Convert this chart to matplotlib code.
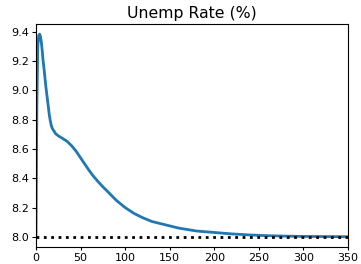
import matplotlib
matplotlib.use("Agg")
import matplotlib.pyplot as plt

# values
periods = [0, 1, 2, 3, 4, 5, 6, 7, 8, 9, 10, 11, 12, 13, 14, 15, 16, 17, 18, 19,
           20, 22, 25, 30, 35, 40, 45, 50, 55, 60, 65, 70, 75, 80, 90, 100, 110,
           120, 130, 140, 150, 160, 170, 180, 190, 200, 220, 240, 260, 280, 300,
           325, 350]
unemp = [8.00, 8.90, 9.30, 9.375, 9.385, 9.37, 9.33, 9.27, 9.20, 9.15, 9.09,
         9.03, 8.98, 8.93, 8.88, 8.83, 8.795, 8.765, 8.745, 8.733, 8.725, 8.705,
         8.69, 8.672, 8.652, 8.622, 8.585, 8.54, 8.495, 8.45, 8.41, 8.375, 8.342,
         8.312, 8.25, 8.20, 8.16, 8.13, 8.105, 8.09, 8.075, 8.06, 8.05, 8.04,
         8.035, 8.03, 8.02, 8.013, 8.008, 8.005, 8.003, 8.002, 8.001]
steady_state = 8.0

plt.rcParams['xtick.labelsize'] = 8
plt.rcParams['ytick.labelsize'] = 8
plt.rcParams['xtick.major.size'] = 2.5
plt.rcParams['ytick.major.size'] = 2.8
plt.rcParams['xtick.major.pad'] = 2.0
plt.rcParams['ytick.major.pad'] = 2.5

fig = plt.figure(figsize=(3.61, 2.64), dpi=100)
ax = fig.add_axes([0.0997, 0.0644, 0.8643, 0.8447])
ax.plot(periods, unemp, color='C0', lw=2)
ax.axhline(steady_state, color='k', ls=':', lw=2)
ax.set_xlim(0, 350)
ax.set_title('Unemp Rate (%)', fontsize=11.3, pad=4)
fig.savefig('out.png', dpi=100)
